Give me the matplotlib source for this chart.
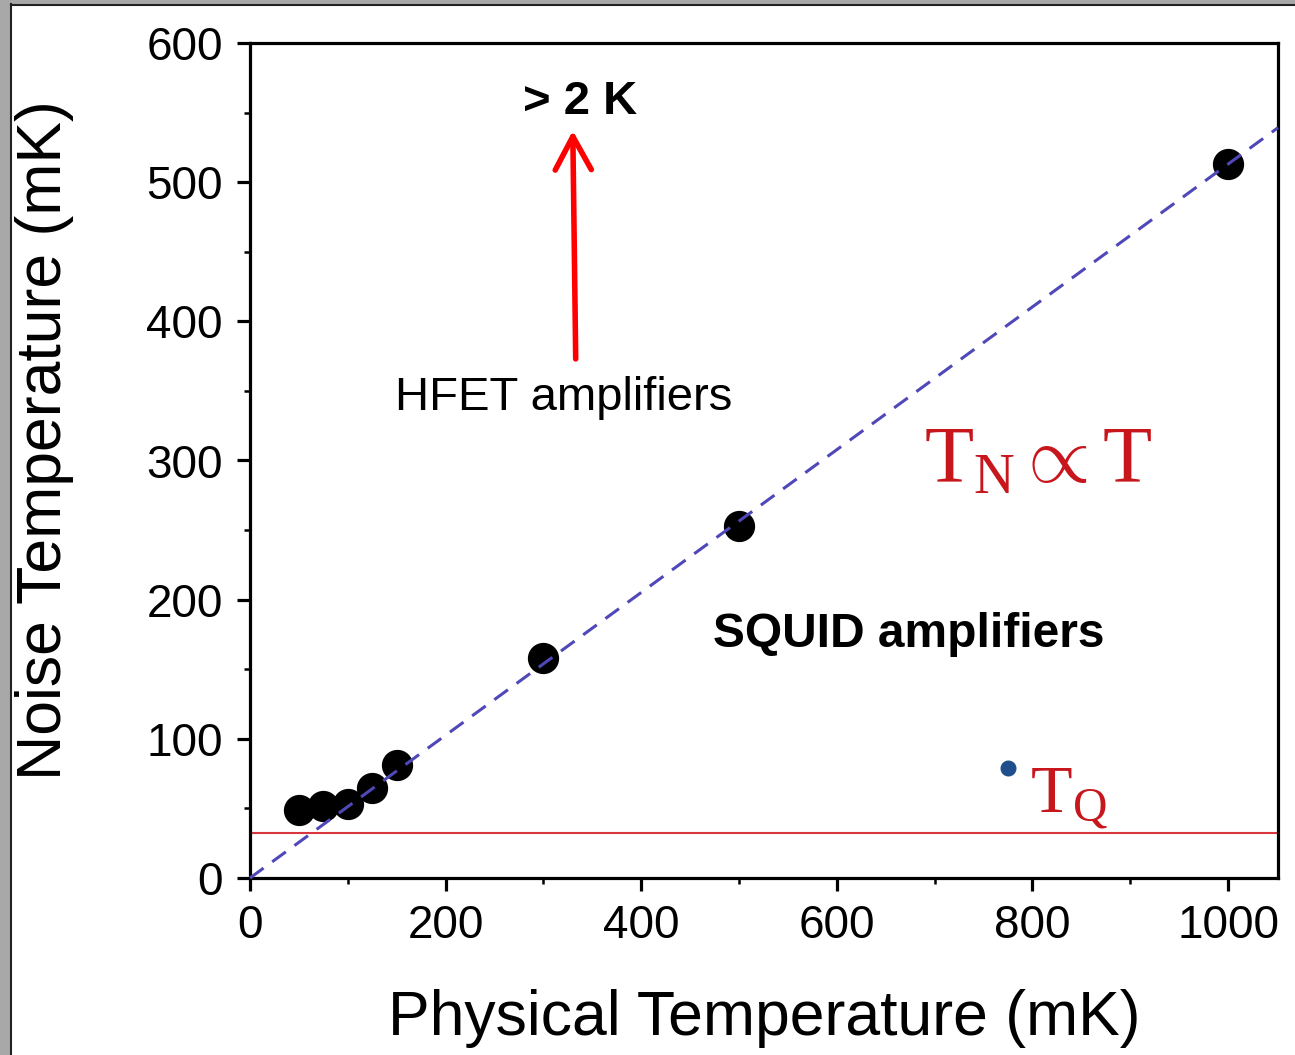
'''
noise temperature vs physical temperature for SQUID amplifiers
'''

import matplotlib
matplotlib.use('Agg')
import matplotlib.pyplot as plt
from matplotlib.patches import Rectangle
from matplotlib.lines import Line2D
from matplotlib.ticker import MultipleLocator
import numpy as np

plt.rcParams['font.family'] = ['Liberation Sans', 'DejaVu Sans']
plt.rcParams['mathtext.fontset'] = 'custom'
plt.rcParams['mathtext.rm'] = 'Liberation Serif'
plt.rcParams['mathtext.it'] = 'Liberation Serif:italic'

# measured points (mK)
phys_temp = [50, 75, 100, 125, 150, 300, 500, 1000]
noise_temp = [49, 52, 53, 65, 81, 158, 253, 513]

# linear fit T_N = k*T
fit_slope = 0.513
fit_x = [0, 1051]

# quantum limit line and marker
tq_level = 32
tq_dot = (775, 79)

x_ticks = [0, 200, 400, 600, 800, 1000]
y_ticks = [0, 100, 200, 300, 400, 500, 600]

fig = plt.figure(figsize=(12.95, 10.55), dpi=100)
ax = fig.add_axes([250 / 1295, 1 - 878 / 1055, 1028 / 1295, 835 / 1055])

# fit line over the points
ax.plot(fit_x, [fit_slope * v for v in fit_x], color='#5048b8', lw=2.2,
        linestyle=(0, (5.5, 3.5)), zorder=4, clip_on=False)
ax.plot(phys_temp, noise_temp, 'o', color='black', ms=21.5, zorder=3)

ax.axhline(tq_level, color='#d8353c', lw=1.5, zorder=2)
ax.plot([tq_dot[0]], [tq_dot[1]], 'o', color='#1f4e8c', ms=10.5, zorder=3)

# arrow pointing to HFET noise level
ax.annotate('', xy=(330, 537), xytext=(333, 373),
            arrowprops=dict(arrowstyle='->,head_length=1.2,head_width=0.65',
                            color='#ff0000', lw=4, mutation_scale=20,
                            shrinkA=0, shrinkB=0))

ax.text(321, 336, 'HFET amplifiers', fontsize=34, ha='center', va='baseline')
ax.text(337, 549, '> 2 K', fontsize=34, fontweight='bold', ha='center', va='baseline')
ax.text(673, 166, 'SQUID amplifiers', fontsize=34.5, fontweight='bold',
        ha='center', va='baseline')
ax.text(689, 284, r'$\mathrm{T_N}\propto\mathrm{T}$', fontsize=58, color='#c8161d',
        ha='left', va='baseline')
ax.text(797, 47, r'$\mathrm{T_Q}$', fontsize=49, color='#c8161d',
        ha='left', va='baseline')

ax.set_xlim(0, 1051)
ax.set_ylim(0, 600)
ax.set_xticks(x_ticks)
ax.set_yticks(y_ticks)
ax.xaxis.set_minor_locator(MultipleLocator(100))
ax.yaxis.set_minor_locator(MultipleLocator(50))

for sp in ax.spines.values():
    sp.set_linewidth(2.3)
ax.tick_params(which='major', direction='out', length=9.5, width=2.3,
               labelsize=33, pad=9)
ax.tick_params(which='minor', direction='out', length=4.5, width=1.8)
ax.tick_params(axis='y', which='major', pad=10)

ax.set_xlabel('Physical Temperature (mK)', fontsize=45)
ax.set_ylabel('Noise Temperature (mK)', fontsize=45)
ax.xaxis.set_label_coords(0.5, -0.133)
ax.yaxis.set_label_coords(-0.171, 0.525)

# frame of the screenshot
fig.add_artist(Rectangle((0, 0), 10 / 1295, 1, transform=fig.transFigure,
                         color='#a8a8a8', zorder=0))
fig.add_artist(Rectangle((0, 1 - 3 / 1055), 1, 3 / 1055, transform=fig.transFigure,
                         color='#a8a8a8', zorder=0))
fig.add_artist(Line2D([11 / 1295, 11 / 1295], [0, 1 - 4 / 1055],
                      transform=fig.transFigure, color='#222222', lw=1.5))
fig.add_artist(Line2D([11 / 1295, 1], [1 - 4.5 / 1055, 1 - 4.5 / 1055],
                      transform=fig.transFigure, color='#222222', lw=1.5))

fig.savefig('out.png', dpi=100)
